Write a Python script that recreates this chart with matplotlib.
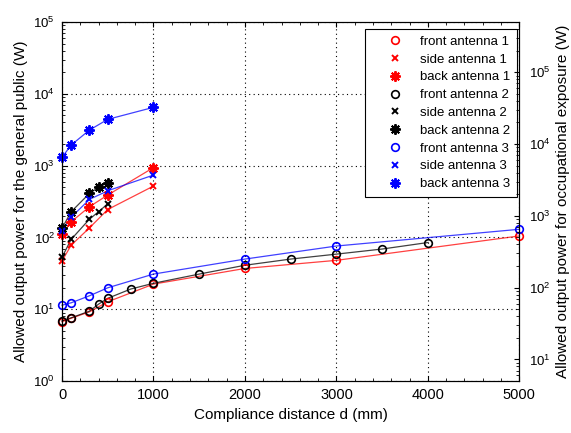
import numpy as np
import matplotlib
matplotlib.use("Agg")
import matplotlib.pyplot as plt
from matplotlib.ticker import LogLocator, MultipleLocator, NullFormatter

plt.rcParams['font.family'] = ['Liberation Sans', 'DejaVu Sans']
plt.rcParams['mathtext.default'] = 'regular'

# Данные: расстояние (мм) и допустимая мощность (Вт) для населения
d_front1 = [0, 100, 300, 500, 1000, 2000, 3000, 5000]
p_front1 = [6.7, 7.5, 9.2, 12.7, 22.4, 37, 48, 105]
d_side1 = [0, 100, 300, 500, 1000]
p_side1 = [47, 78, 136, 245, 520]
d_back1 = [0, 100, 300, 500, 1000]
p_back1 = [111, 165, 268, 390, 940]

d_front2 = [0, 100, 300, 400, 500, 750, 1000, 1500, 2000, 2500, 3000, 3500, 4000]
p_front2 = [6.9, 7.6, 9.4, 11.8, 14.2, 19.1, 23, 30.9, 41, 50, 58.6, 69, 85]
d_side2 = [0, 100, 300, 400, 500]
p_side2 = [53, 94, 180, 228, 295]
d_back2 = [0, 100, 300, 400, 500]
p_back2 = [134, 228, 411, 499, 578]

d_front3 = [0, 100, 300, 500, 1000, 2000, 3000, 5000]
p_front3 = [11.4, 12.3, 15.4, 19.9, 30.9, 50, 76, 130]
d_side3 = [0, 100, 300, 500, 1000]
p_side3 = [124, 191, 339, 447, 740]
d_back3 = [0, 100, 300, 500, 1000]
p_back3 = [1306, 1937, 3133, 4418, 6490]

# коэффициент перехода к профессиональному облучению
k_occ = 5

series = [
    (d_front1, p_front1, 'r', 'o', "front antenna 1"),
    (d_side1, p_side1, 'r', 'x', "side antenna 1"),
    (d_back1, p_back1, 'r', '*', "back antenna 1"),
    (d_front2, p_front2, 'k', 'o', "front antenna 2"),
    (d_side2, p_side2, 'k', 'x', "side antenna 2"),
    (d_back2, p_back2, 'k', '*', "back antenna 2"),
    (d_front3, p_front3, 'b', 'o', "front antenna 3"),
    (d_side3, p_side3, 'b', 'x', "side antenna 3"),
    (d_back3, p_back3, 'b', '*', "back antenna 3"),
]

fig = plt.figure(figsize=(5.71, 4.33), dpi=100)
ax = fig.add_axes([0.1086, 0.120, 0.801, 0.829])

for d, p, c, m, lab in series:
    ax.plot(d, p, color=c, lw=0.9, alpha=0.75, clip_on=False)
    if m == 'o':
        ax.plot(d, p, ls='none', marker='o', ms=5.5, mfc='none', mec=c, mew=1.2,
                label=lab, clip_on=False, zorder=3)
    elif m == 'x':
        ax.plot(d, p, ls='none', marker='x', ms=4.5, mec=c, mew=1.4,
                label=lab, clip_on=False, zorder=3)
    else:
        # звёздочка (8 лучей), как в MATLAB
        ax.plot(d, p, ls='none', marker=(8, 2, 0), ms=7.5, mec=c, mew=1.4,
                label=lab, clip_on=False, zorder=3)

ax.set_yscale('log')
ax.set_xlim(0, 5000)
ax.set_ylim(1, 1e5)
ax.xaxis.set_major_locator(MultipleLocator(1000))
ax.xaxis.set_minor_locator(MultipleLocator(200))
ax.yaxis.set_major_locator(LogLocator(base=10))
ax.yaxis.set_minor_locator(LogLocator(base=10, subs=np.arange(2, 10)))
ax.yaxis.set_minor_formatter(NullFormatter())
ax.tick_params(axis='both', which='both', direction='in', top=True, right=False)
ax.tick_params(axis='x', labelsize=10.5, pad=5)
ax.tick_params(axis='y', labelsize=9.5, pad=5)
ax.grid(True, which='major', color='k', ls=(0, (1, 3)), lw=0.8)

ax.set_xlabel("Compliance distance d (mm)", fontsize=11, labelpad=4)
ax.set_ylabel("Allowed output power for the general public (W)", fontsize=11)

# Правая ось: профессиональное облучение
ax2 = ax.twinx()
ax2.set_yscale('log')
ax2.set_ylim(1 * k_occ, 1e5 * k_occ)
ax2.yaxis.set_major_locator(LogLocator(base=10))
ax2.yaxis.set_minor_locator(LogLocator(base=10, subs=np.arange(2, 10)))
ax2.yaxis.set_minor_formatter(NullFormatter())
ax2.tick_params(axis='y', which='both', direction='in', labelsize=9.5, pad=7)
ax2.set_ylabel("Allowed output power for occupational exposure (W)", fontsize=11)

leg = ax.legend(loc='upper right', bbox_to_anchor=(0.9945, 0.9805), borderaxespad=0,
                fontsize=9.5, frameon=True, fancybox=False, edgecolor='k',
                framealpha=1, borderpad=0.5, labelspacing=0.42,
                handlelength=3.5, handletextpad=0.15)
leg.get_frame().set_linewidth(0.8)

fig.savefig("out.png", dpi=100)
